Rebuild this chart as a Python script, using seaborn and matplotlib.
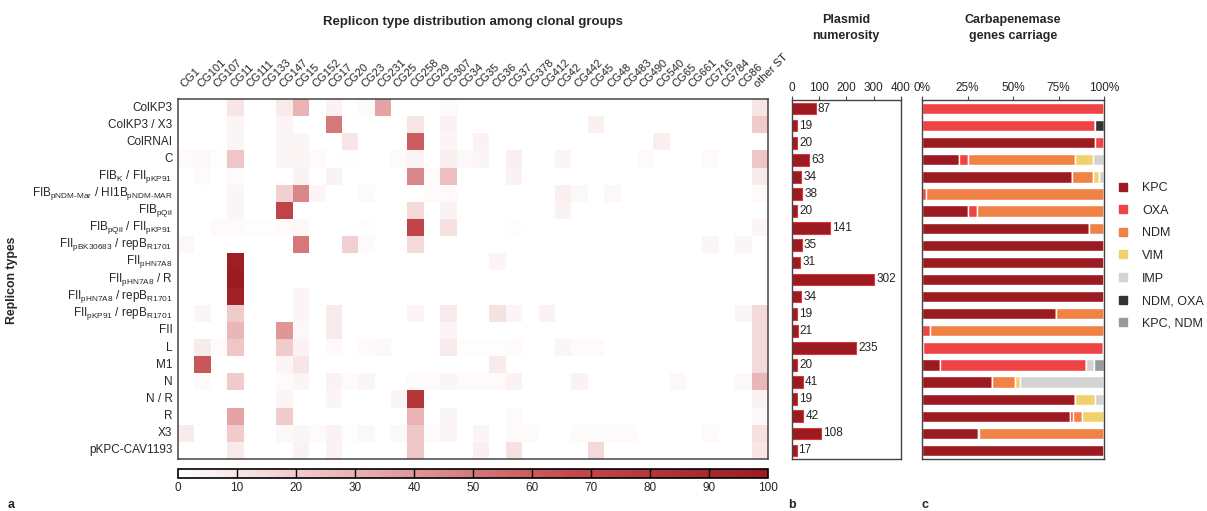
import numpy as np
import pandas as pd
import matplotlib
matplotlib.use("Agg")
import matplotlib.pyplot as plt
import seaborn as sns
from matplotlib.colors import LinearSegmentedColormap
from matplotlib.lines import Line2D

sns.set_theme(style="white")
plt.rcParams['font.family'] = ['Liberation Sans', 'DejaVu Sans']
plt.rcParams['mathtext.fontset'] = 'custom'
plt.rcParams['mathtext.rm'] = 'Liberation Sans'
plt.rcParams['mathtext.default'] = 'regular'

# ---- data ----
clonal_groups = ['CG1', 'CG101', 'CG107', 'CG11', 'CG111', 'CG133', 'CG147', 'CG15', 'CG152',
                 'CG17', 'CG20', 'CG23', 'CG231', 'CG25', 'CG258', 'CG29', 'CG307', 'CG34',
                 'CG35', 'CG36', 'CG37', 'CG378', 'CG412', 'CG42', 'CG442', 'CG45', 'CG48',
                 'CG483', 'CG490', 'CG540', 'CG65', 'CG661', 'CG716', 'CG784', 'CG86', 'other ST']

replicons = ['ColKP3', 'ColKP3 / X3', 'ColRNAI', 'C',
             'FIB$_{K}$ / FII$_{pKP91}$',
             'FIB$_{pNDM\u2010Mar}$ / HI1B$_{pNDM\u2010MAR}$',
             'FIB$_{pQil}$',
             'FIB$_{pQil}$ / FII$_{pKP91}$',
             'FII$_{pBK30683}$ / repB$_{R1701}$',
             'FII$_{pHN7A8}$',
             'FII$_{pHN7A8}$ / R',
             'FII$_{pHN7A8}$ / repB$_{R1701}$',
             'FII$_{pKP91}$ / repB$_{R1701}$',
             'FII', 'L', 'M1', 'N', 'N / R', 'R', 'X3', 'pKPC-CAV1193']

# percentage of each replicon type per clonal group (column index -> %), other cells 0
heat_rows = [
    {3: 10, 6: 8, 7: 30, 9: 5, 11: 2, 12: 35, 16: 2, 35: 10},
    {3: 4, 6: 4, 9: 50, 14: 10, 16: 5, 25: 6, 35: 20},
    {3: 4, 6: 4, 7: 4, 10: 10, 14: 60, 16: 4, 18: 5, 29: 7},
    {0: 2, 1: 3, 2: 1, 3: 22, 6: 4, 7: 4, 8: 2, 10: 1, 13: 2, 14: 4, 16: 6, 17: 3, 18: 4,
     20: 6, 23: 4, 28: 2, 32: 2, 35: 22},
    {1: 2, 3: 2, 7: 5, 9: 5, 14: 45, 15: 2, 16: 25, 20: 5, 35: 8},
    {3: 4, 6: 18, 7: 45, 8: 4, 11: 2, 15: 2, 16: 2, 23: 6, 24: 3, 26: 3, 35: 2},
    {3: 4, 6: 70, 14: 15, 16: 5, 23: 5},
    {2: 2, 3: 2, 4: 1, 5: 1, 6: 2, 7: 3, 11: 1, 14: 70, 16: 12, 20: 1, 35: 4},
    {0: 3, 7: 50, 10: 18, 11: 2, 14: 15, 32: 4, 34: 4},
    {3: 98, 19: 4},
    {3: 100},
    {3: 95, 7: 4},
    {1: 4, 3: 20, 7: 4, 9: 8, 14: 4, 16: 8, 19: 12, 20: 4, 22: 5, 34: 4, 35: 15},
    {3: 28, 6: 40, 7: 3, 9: 8, 16: 4, 35: 15},
    {1: 8, 2: 2, 3: 22, 6: 20, 7: 5, 9: 2, 11: 2, 12: 3, 16: 8, 17: 1, 18: 1, 19: 1, 20: 2,
     23: 4, 24: 2, 25: 2, 35: 15},
    {1: 62, 6: 4, 7: 10, 19: 8, 35: 15},
    {1: 2, 3: 20, 6: 2, 7: 4, 9: 5, 10: 2, 11: 4, 14: 2, 15: 2, 16: 4, 17: 2, 18: 2, 19: 2,
     20: 5, 24: 5, 30: 3, 34: 3, 35: 28},
    {6: 4, 9: 4, 13: 4, 14: 80, 35: 5},
    {3: 35, 6: 20, 14: 30, 16: 4, 20: 2, 35: 3},
    {0: 8, 3: 20, 6: 3, 7: 4, 8: 2, 9: 5, 10: 1, 11: 3, 13: 3, 14: 22, 15: 2, 16: 4, 18: 4,
     20: 2, 21: 2, 24: 2, 25: 2, 26: 2, 27: 2, 32: 2, 35: 12},
    {3: 8, 7: 5, 9: 5, 14: 22, 18: 6, 20: 12, 25: 15, 35: 10},
]

plasmid_counts = [87, 19, 20, 63, 34, 38, 20, 141, 35, 31, 302, 34, 19, 21, 235, 20, 41, 19, 42, 108, 17]

genes = ['KPC', 'OXA', 'NDM', 'VIM', 'IMP', 'NDM, OXA', 'KPC, NDM']
gene_colors = ['#9b1b20', '#ee4446', '#f08246', '#f1d06e', '#d3d3d3', '#333333', '#9a9a9a']
kpc = [0, 0, 95.2, 20.5, 82.4, 0, 25, 91.6, 100, 100, 100, 100, 73.7, 0, 0.5, 9.9, 38.7, 84.2, 81.1, 30.6, 100]
oxa = [100, 94.9, 4.8, 4.8, 0, 2.4, 5, 0, 0, 0, 0, 0, 0, 4.6, 99, 80, 0, 0, 2, 0.7, 0]
ndm = [0, 0, 0, 58.9, 11.7, 97.6, 70, 8.4, 0, 0, 0, 0, 26.3, 95.4, 0, 0, 12.3, 0, 5, 68.7, 0]
vim = [0, 0, 0, 9.5, 2.9, 0, 0, 0, 0, 0, 0, 0, 0, 0, 0.5, 0, 2.6, 10.6, 11.9, 0, 0]
imp = [0, 0, 0, 6.3, 3, 0, 0, 0, 0, 0, 0, 0, 0, 0, 0, 4.8, 46.4, 5.2, 0, 0, 0]
ndm_oxa = [0, 5.1, 0, 0, 0, 0, 0, 0, 0, 0, 0, 0, 0, 0, 0, 0, 0, 0, 0, 0, 0]
kpc_ndm = [0, 0, 0, 0, 0, 0, 0, 0, 0, 0, 0, 0, 0, 0, 0, 5.3, 0, 0, 0, 0, 0]

heat = np.zeros((len(replicons), len(clonal_groups)))
for i, row in enumerate(heat_rows):
    for j, v in row.items():
        heat[i, j] = v
df_heat = pd.DataFrame(heat, index=replicons, columns=clonal_groups)

# ---- layout (pixel boxes) ----
W, H = 1207, 511
def box(l, t, w, h):
    return [l / W, 1 - (t + h) / H, w / W, h / H]

fig = plt.figure(figsize=(W / 100, H / 100), dpi=100)
fs = 8.5
dark = '#9b1b20'
frame = '#444444'

cmap = LinearSegmentedColormap.from_list('reds', ['#ffffff', '#e6a9aa', '#c4494c', '#9b1b20'])

ax_h = fig.add_axes(box(178, 99, 590, 360))
ax_cb = fig.add_axes(box(178, 469, 590, 9))
sns.heatmap(df_heat, ax=ax_h, cmap=cmap, vmin=0, vmax=100, cbar_ax=ax_cb,
            cbar_kws={'orientation': 'horizontal', 'ticks': list(range(0, 101, 10))},
            linewidths=0, xticklabels=True, yticklabels=True)
ax_h.xaxis.tick_top()
ax_h.set_xticklabels(clonal_groups, rotation=45, ha='left', va='bottom',
                     rotation_mode='anchor', fontsize=8)
ax_h.set_yticklabels(replicons, rotation=0, fontsize=fs)
ax_h.tick_params(axis='y', length=0, pad=4)
ax_h.tick_params(axis='x', length=0, pad=7)
ax_h.set_xlabel('')
ax_h.set_ylabel('')
for s in ax_h.spines.values():
    s.set_visible(True)
    s.set_color(frame)
    s.set_linewidth(1.1)

ax_cb.tick_params(labelsize=fs, length=0, pad=3)
for v in range(10, 100, 10):
    ax_cb.axvline(v, color='black', lw=1)
cb = ax_h.collections[0].colorbar
cb.outline.set_edgecolor('black')
cb.outline.set_linewidth(1.2)

# ---- plasmid numerosity ----
ax_b = fig.add_axes(box(792, 100, 109, 359))
sns.barplot(x=plasmid_counts, y=replicons, orient='h', ax=ax_b, color=dark,
            saturation=1, width=0.68, edgecolor='#d8393d', linewidth=0.8)
for i, v in enumerate(plasmid_counts):
    ax_b.text(v + 7, i, str(v), va='center', ha='left', fontsize=fs)
ax_b.set_xlim(0, 400)
ax_b.set_xticks([0, 100, 200, 300, 400])
ax_b.xaxis.tick_top()
ax_b.set_yticks([])
ax_b.set_xlabel('')
ax_b.set_ylabel('')
ax_b.tick_params(axis='x', labelsize=fs, length=3, width=0.8, color=frame, pad=1, direction='out')
for s in ax_b.spines.values():
    s.set_visible(True)
    s.set_color(frame)
    s.set_linewidth(1)

# ---- carbapenemase genes ----
ax_c = fig.add_axes(box(922, 100, 182, 359))
shares = [kpc, oxa, ndm, vim, imp, ndm_oxa, kpc_ndm]
ypos = np.arange(len(replicons))
left = np.zeros(len(replicons))
for g, col, vals in zip(genes, gene_colors, shares):
    ax_c.barh(ypos, vals, left=left, height=0.66, color=col, label=g)
    left += np.array(vals)
ax_c.set_xlim(0, 100)
ax_c.set_ylim(len(replicons) - 0.5, -0.5)
ax_c.set_xticks([0, 25, 50, 75, 100])
ax_c.set_xticklabels(['0%', '25%', '50%', '75%', '100%'])
ax_c.xaxis.tick_top()
ax_c.set_yticks([])
ax_c.tick_params(axis='x', labelsize=fs, length=3, width=0.8, color=frame, pad=1, direction='out')
for s in ax_c.spines.values():
    s.set_visible(True)
    s.set_color(frame)
    s.set_linewidth(1)

handles = [Line2D([], [], marker='s', linestyle='', color=c, markersize=5.5) for c in gene_colors]
fig.legend(handles, genes, loc='upper left', bbox_to_anchor=(1117 / W, 1 - 182 / H),
           frameon=False, fontsize=9, labelspacing=0.85, handlelength=1.0,
           handletextpad=1.0, borderpad=0, borderaxespad=0)

# ---- titles and labels ----
fig.text(473 / W, 1 - 22 / H, 'Replicon type distribution among clonal groups',
         ha='center', va='center', fontsize=9.5, fontweight='bold')
fig.text(846 / W, 1 - 28 / H, 'Plasmid\nnumerosity', ha='center', va='center',
         fontsize=9, fontweight='bold', linespacing=1.35)
fig.text(1013 / W, 1 - 28 / H, 'Carbapenemase\ngenes carriage', ha='center', va='center',
         fontsize=9, fontweight='bold', linespacing=1.35)
fig.text(12 / W, 1 - 280 / H, 'Replicon types', rotation=90, ha='center', va='center',
         fontsize=8.8, fontweight='bold')
for lab, x in [('a', 8), ('b', 788), ('c', 922)]:
    fig.text(x / W, 1 - 505 / H, lab, ha='left', va='center', fontsize=9, fontweight='bold')

fig.savefig('out.png', dpi=100)
